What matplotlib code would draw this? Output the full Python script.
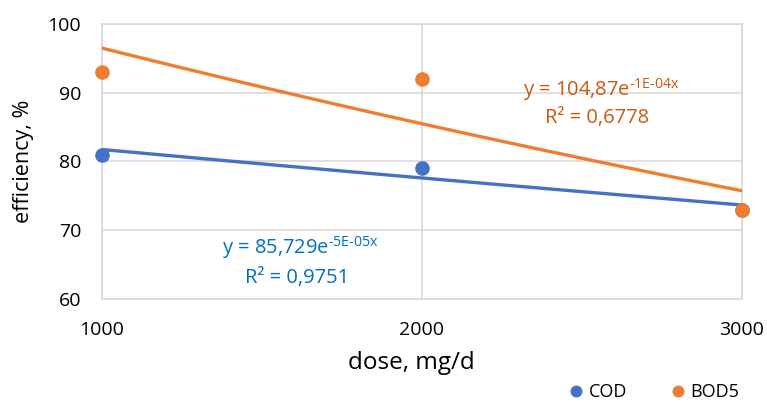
import numpy as np
import matplotlib
matplotlib.use("Agg")
from matplotlib import pyplot as plt

plt.rcParams['font.family'] = ['Open Sans', 'DejaVu Sans']
plt.rcParams['mathtext.fontset'] = 'custom'
plt.rcParams['mathtext.rm'] = 'Open Sans'

dose = [1000, 2000, 3000]
cod = [81, 79, 73]
bod5 = [93, 92, 73]

cod_eq = ["y = 85,729e$^{\\text{-5E-05x}}$", "R² = 0,9751"]
bod_eq = ["y = 104,87e$^{\\text{-1E-04x}}$", "R² = 0,6778"]

c_cod = '#4472C4'
c_bod = '#ED7D31'
grid_c = '#D9D9D9'


def expfit(x, y):
    # exponential trendline, same as the spreadsheet does it
    b, lna = np.polyfit(x, np.log(y), 1)
    return np.exp(lna), b


fig = plt.figure(figsize=(7.67, 4.05), dpi=100)
ax = fig.add_axes([0.133, 0.262, 0.834, 0.679])

xs = np.linspace(dose[0], dose[-1], 100)
for y, c in [(cod, c_cod), (bod5, c_bod)]:
    a, b = expfit(np.array(dose, float), np.array(y, float))
    ax.plot(xs, a * np.exp(b * xs), color=c, lw=2.4, zorder=3)

ax.plot(dose, cod, 'o', color=c_cod, ms=9.5, zorder=4, clip_on=False, label='COD')
ax.plot(dose, bod5, 'o', color=c_bod, ms=9.5, zorder=4, clip_on=False, label='BOD5')

ax.set_xlim(1000, 3000)
ax.set_ylim(60, 100)
ax.set_xticks([1000, 2000, 3000])
ax.set_yticks([60, 70, 80, 90, 100])
ax.grid(True, color=grid_c, lw=1.2)
ax.set_axisbelow(True)
for s in ax.spines.values():
    s.set_color(grid_c)
    s.set_linewidth(1.2)
ax.tick_params(length=0, labelsize=14, colors='#000000')
ax.tick_params(axis='x', pad=16)
ax.tick_params(axis='y', pad=15)

ax.set_xlabel('dose, mg/d', fontsize=17.5)
ax.xaxis.set_label_coords(0.484, -0.19)
ax.set_ylabel('efficiency, %', fontsize=15.5, labelpad=10)

# equation labels placed in figure pixels (reference measured from top-left)
H = 405
ax.text(601, H - 90, bod_eq[0], transform=None, fontsize=14.5, color='#C55A11',
        ha='center', va='center')
ax.text(597, H - 118, bod_eq[1], transform=None, fontsize=14.5, color='#C55A11',
        ha='center', va='center')
ax.text(300, H - 248, cod_eq[0], transform=None, fontsize=14.5, color='#0070C0',
        ha='center', va='center')
ax.text(297, H - 278, cod_eq[1], transform=None, fontsize=14.5, color='#0070C0',
        ha='center', va='center')

fig.legend(loc='lower right', bbox_to_anchor=(0.985, -0.03), ncol=2, frameon=False,
           fontsize=13, handletextpad=0.1, handlelength=1.2, columnspacing=2.2,
           markerscale=0.8)

fig.savefig('out.png', dpi=100)
